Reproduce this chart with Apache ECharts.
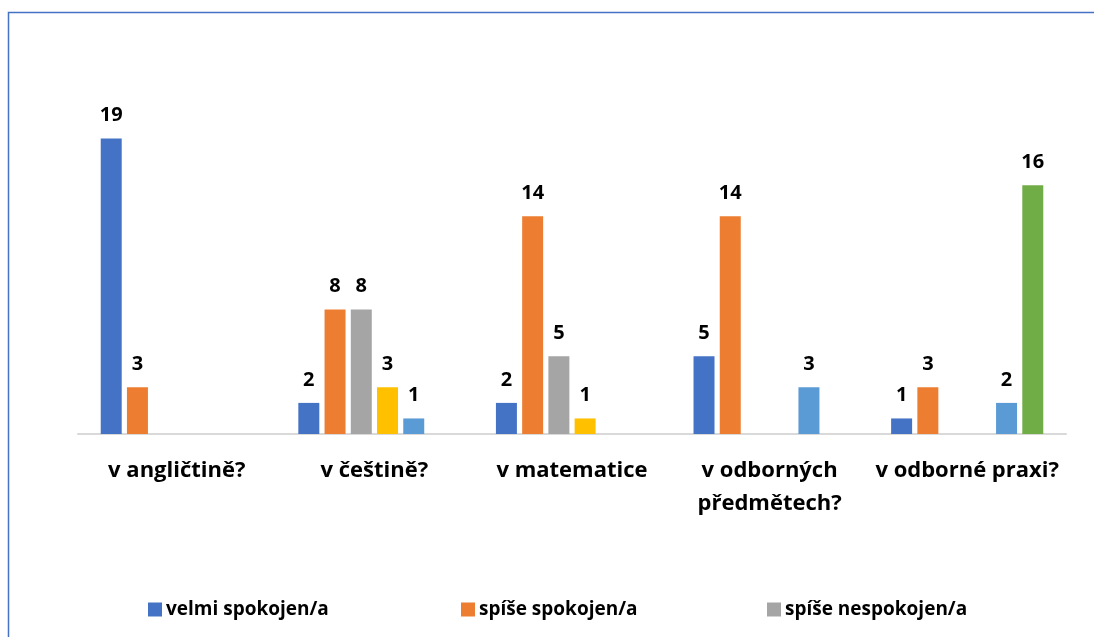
<!DOCTYPE html>
<html>
<head>
<meta charset="utf-8">
<script src="https://cdn.jsdelivr.net/npm/echarts@6/dist/echarts.min.js"></script>
<style>
  html, body { margin: 0; padding: 0; background: #fff; }
  #main { width: 1094px; height: 637px; }
</style>
</head>
<body>
<div id="main"></div>
<script>
const categories = ['v angličtině?', 'v češtině?', 'v matematice', 'v odborných\npředmětech?', 'v odborné praxi?']
const seriesNames = ['velmi spokojen/a', 'spíše spokojen/a', 'spíše nespokojen/a', 'velmi nespokojen/a', 'nevím', 'neučí se']
const colors = ['#4472C4', '#ED7D31', '#A5A5A5', '#FFC000', '#5B9BD5', '#70AD47']

// hodnoty podle kategorií (null = sloupec chybí)
const velmiSpokojen = [19, 2, 2, 5, 1]
const spiseSpokojen = [3, 8, 14, 14, 3]
const spiseNespokojen = [null, 8, 5, null, null]
const velmiNespokojen = [null, 3, 1, null, null]
const nevim = [null, 1, null, 3, 2]
const neuciSe = [null, null, null, null, 16]

const allValues = [velmiSpokojen, spiseSpokojen, spiseNespokojen, velmiNespokojen, nevim, neuciSe]
const font = '"Open Sans", "Noto Sans", sans-serif'

const chart = echarts.init(document.getElementById('main'))

// legenda je v originále oříznutá, vidět jsou jen první tři položky
const legendLefts = [148, 461, 767]
const legends = legendLefts.map((left, i) => ({
  data: [seriesNames[i]],
  left: left,
  top: 600,
  padding: 0,
  itemWidth: 14,
  itemHeight: 14,
  icon: 'rect',
  textStyle: { fontFamily: font, fontWeight: 'bold', fontSize: 19, color: '#000', padding: [0, 0, 0, -1] }
}))

chart.setOption({
  animation: false,
  color: colors,
  graphic: [
    {
      type: 'rect',
      shape: { x: 8.5, y: 12.5, width: 1200, height: 800 },
      style: { fill: 'none', stroke: '#4472C4', lineWidth: 1.5 }
    }
  ],
  legend: legends,
  grid: {
    left: 78,
    right: 28,
    top: 123,
    bottom: 203
  },
  xAxis: {
    type: 'category',
    data: categories,
    axisLine: { lineStyle: { color: '#D9D9D9', width: 2 } },
    axisTick: { show: false },
    axisLabel: {
      interval: 0,
      margin: 20,
      lineHeight: 33,
      fontFamily: font,
      fontWeight: 'bold',
      fontSize: 22,
      color: '#000'
    }
  },
  yAxis: {
    type: 'value',
    min: 0,
    max: 20,
    show: false
  },
  series: seriesNames.map((name, i) => ({
    name: name,
    type: 'bar',
    data: allValues[i],
    barGap: '25%',
    barCategoryGap: '23%',
    itemStyle: { color: colors[i] },
    label: {
      show: true,
      position: 'top',
      distance: 13,
      fontFamily: font,
      fontWeight: 'bold',
      fontSize: 20,
      color: '#000'
    }
  }))
})
</script>
</body>
</html>
